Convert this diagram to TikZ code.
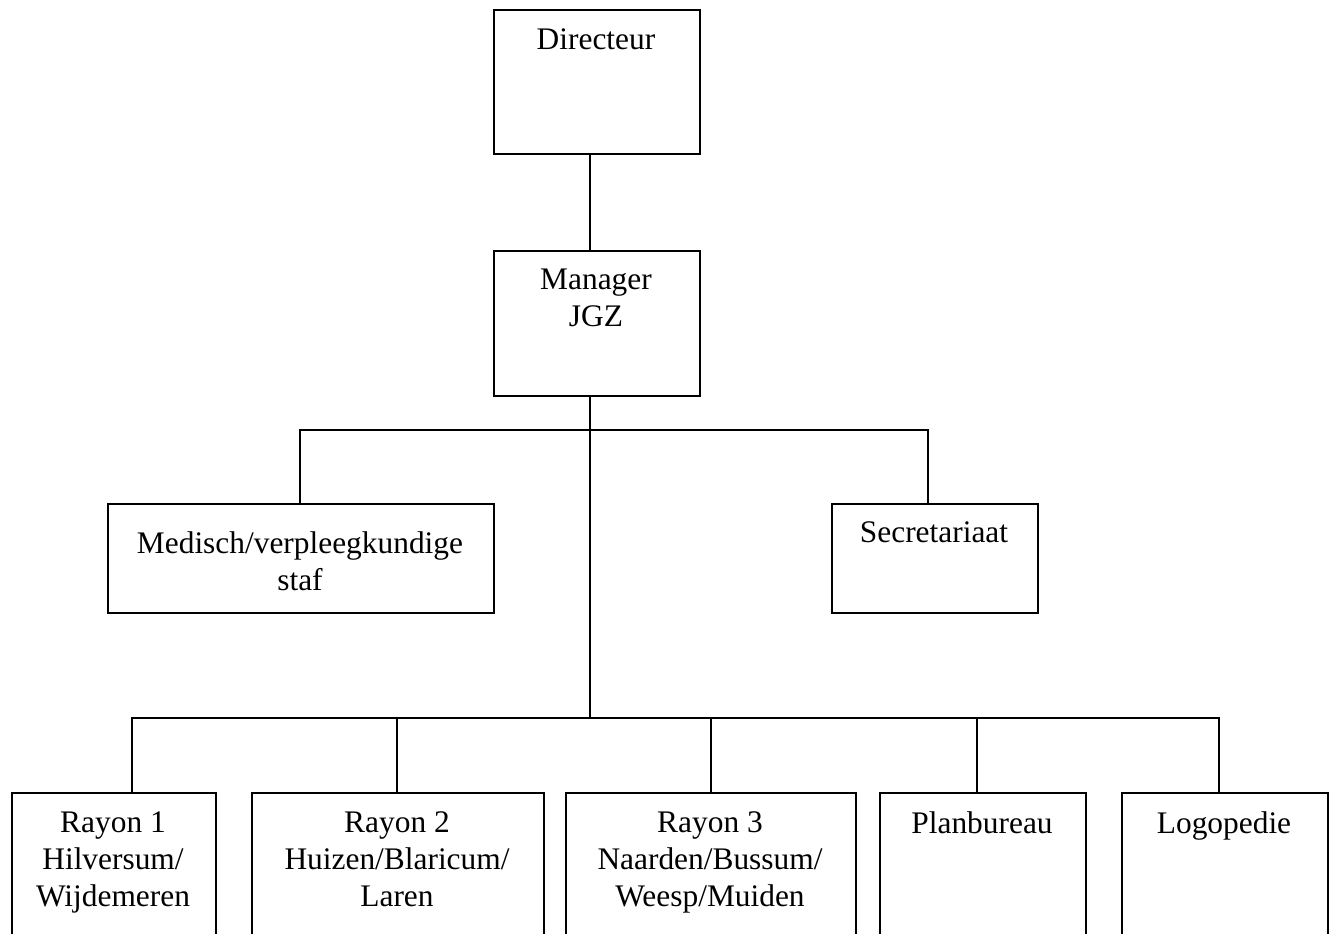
\documentclass[tikz,border=0pt]{standalone}
\usepackage{fontspec}
\setmainfont{Liberation Serif}
\begin{document}
\begin{tikzpicture}[x=1pt,y=-1pt,
  unit/.style={draw, line width=2pt, anchor=north west, inner sep=0pt},
  caption/.style={anchor=north, align=center, inner sep=0pt,
    font=\fontsize{31.4}{37}\selectfont},
  link/.style={line width=1.6pt}]
\useasboundingbox (0,0) rectangle (1333,934);
\clip (0,0) rectangle (1333,934);

% boxes
\node[unit, minimum width=206pt, minimum height=144pt] (dir) at (493,9) {};
\node[unit, minimum width=206pt, minimum height=145pt] (man) at (493,250) {};
\node[unit, minimum width=386pt, minimum height=109pt] (med) at (107,503) {};
\node[unit, minimum width=206pt, minimum height=109pt] (sec) at (831,503) {};
\node[unit, minimum width=204pt, minimum height=160pt] (r1) at (11,792) {};
\node[unit, minimum width=292pt, minimum height=160pt] (r2) at (251,792) {};
\node[unit, minimum width=290pt, minimum height=160pt] (r3) at (565,792) {};
\node[unit, minimum width=206pt, minimum height=160pt] (plan) at (879,792) {};
\node[unit, minimum width=206pt, minimum height=160pt] (logo) at (1121,792) {};

% texts
\node[caption] (tdir) at (596,28.5) {Directeur};
\node[caption] (tman) at (596,268.5) {Manager\\JGZ};
\node[caption] (tmed) at (300,531.5) {Medisch/verpleegkundige\\staf};
\node[caption] (tsec) at (934,521.5) {Secretariaat};
\node[caption] (tr1) at (113,811.5) {Rayon 1\\Hilversum/\\Wijdemeren};
\node[caption] (tr2) at (397,811.5) {Rayon 2\\Huizen/Blaricum/\\Laren};
\node[caption] (tr3) at (710,811.5) {Rayon 3\\Naarden/Bussum/\\Weesp/Muiden};
\node[caption] (tplan) at (982,811.5) {Planbureau};
\node[caption] (tlogo) at (1224,811.5) {Logopedie};

% junctions of the two horizontal bars
\coordinate (hub1) at (590,430);
\coordinate (hub2) at (590,718);

% connectors
\draw[link] (dir.south -| hub1) -- (man.north -| hub1);
\draw[link] (man.south -| hub2) -- (hub2);
\draw[link] (hub1) -| ([xshift=-1pt]med.north);
\draw[link] (hub1) -| ([xshift=-7pt]sec.north);
\draw[link] (hub2) -| ([xshift=18pt]r1.north);
\draw[link] (hub2) -| ([xshift=-1pt]r2.north);
\draw[link] (hub2) -| (r3.north);
\draw[link] (hub2) -| ([xshift=-6pt]plan.north);
\draw[link] (hub2) -| ([xshift=-6pt]logo.north);
\end{tikzpicture}
\end{document}
